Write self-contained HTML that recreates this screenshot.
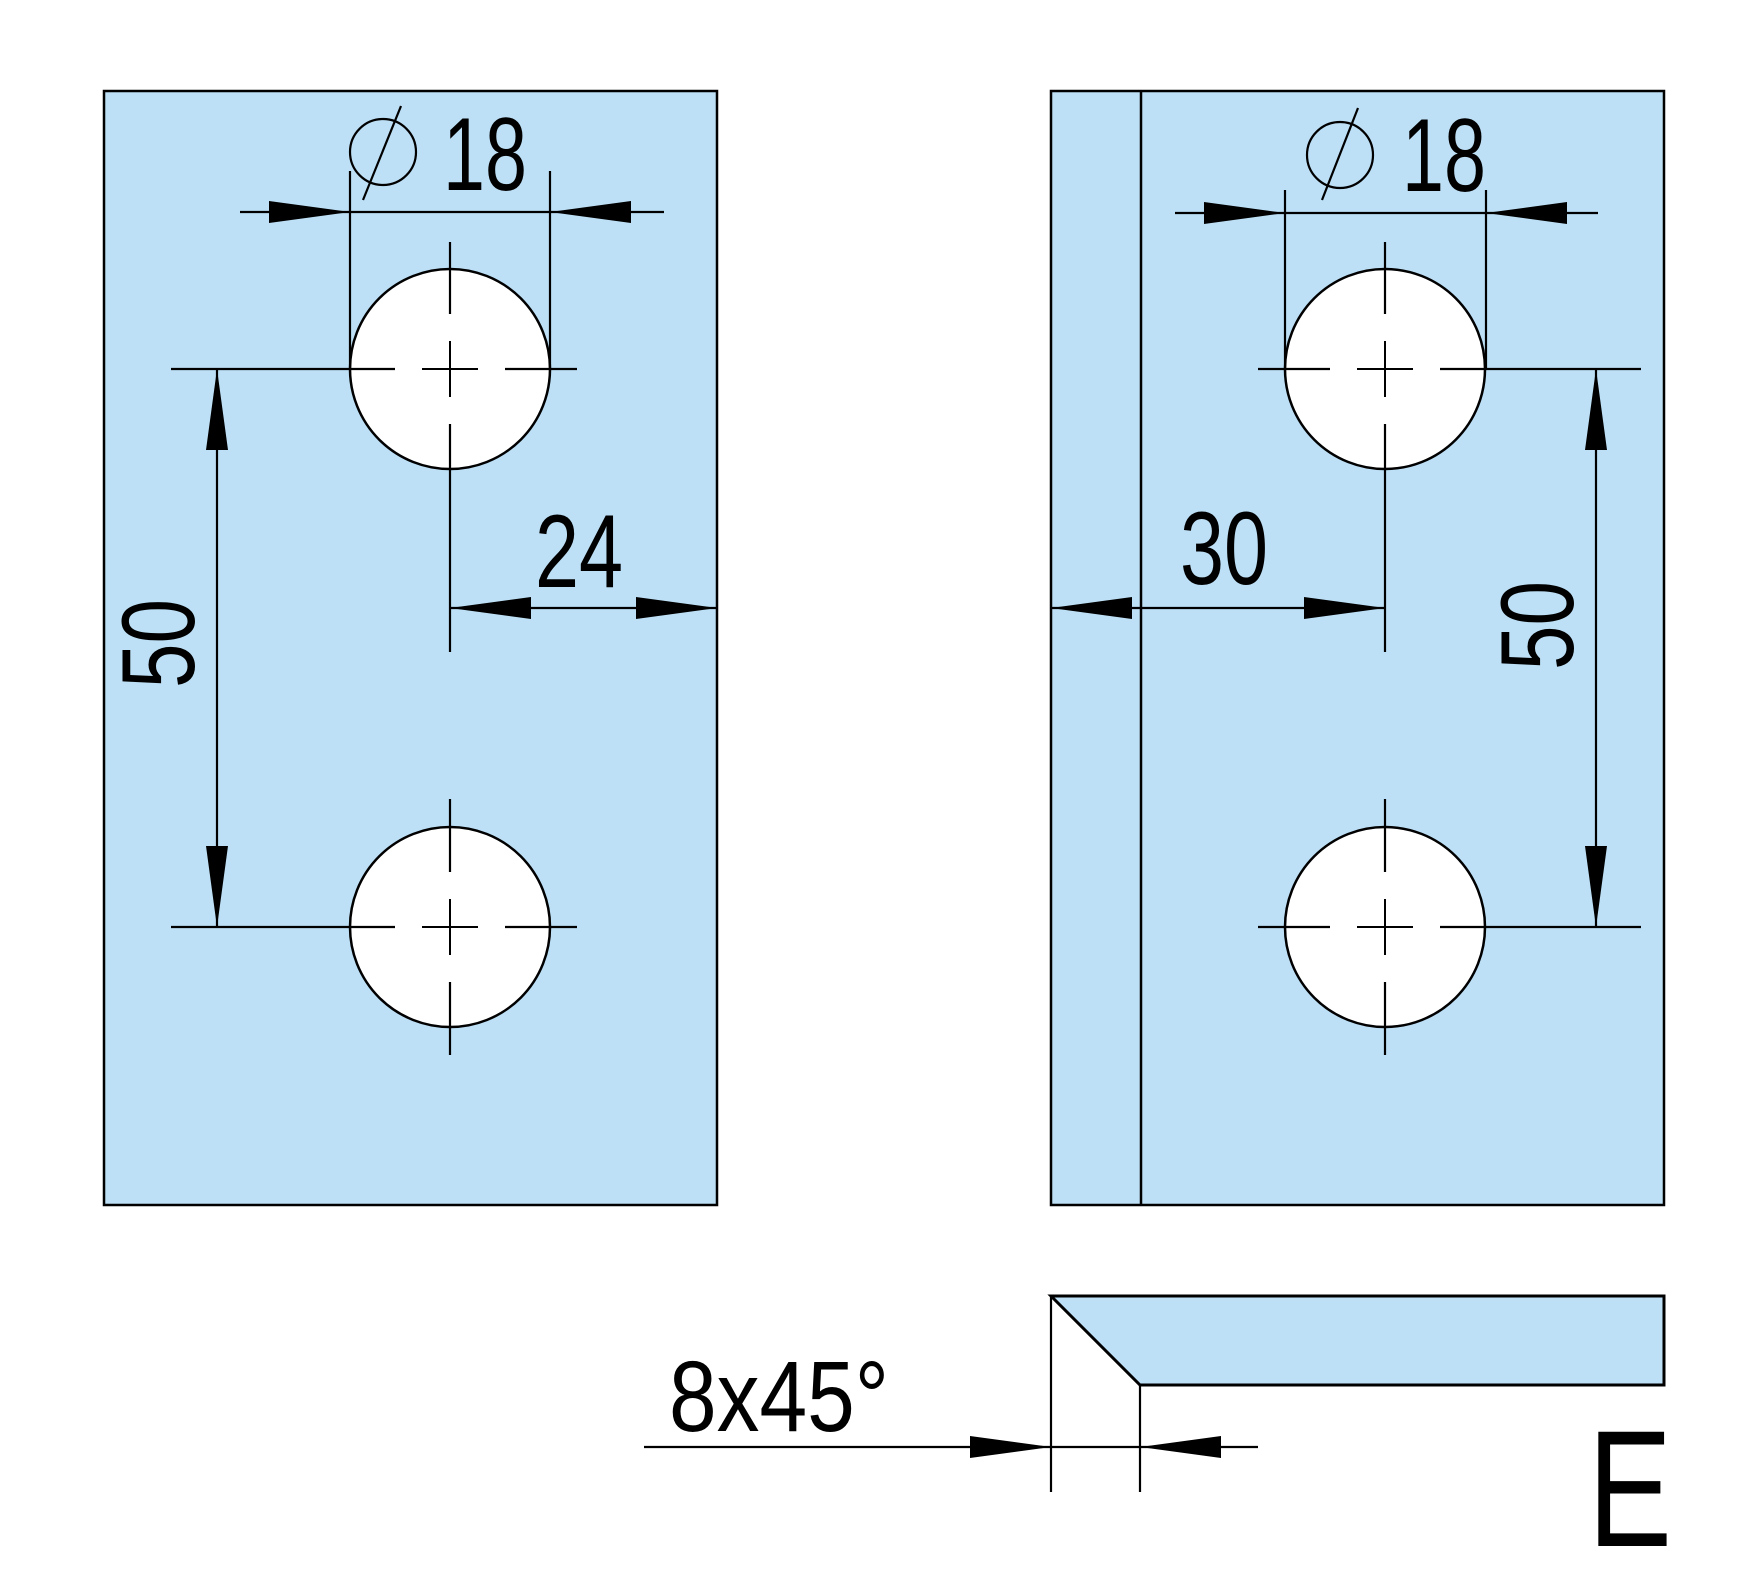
<!DOCTYPE html>
<html><head><meta charset="utf-8"><style>html,body{margin:0;padding:0;background:#fff}svg{display:block}</style></head>
<body>
<svg width="1755" height="1578" viewBox="0 0 1755 1578" xmlns="http://www.w3.org/2000/svg" font-family="Liberation Sans, sans-serif">
<defs>
<g id="hole">
  <circle cx="0" cy="0" r="100" fill="#fff" stroke="#000" stroke-width="2.5"/>
  <line x1="-28" y1="0" x2="28" y2="0" stroke="#000" stroke-width="2"/>
  <line x1="0" y1="-28" x2="0" y2="28" stroke="#000" stroke-width="2"/>
</g>
</defs>
<rect x="104" y="91" width="613" height="1114" fill="#bde0f6" stroke="#000" stroke-width="2.5"/>
<rect x="1051" y="91" width="613" height="1114" fill="#bde0f6" stroke="#000" stroke-width="2.5"/>
<line x1="1141" y1="91" x2="1141" y2="1205" stroke="#000" stroke-width="2.5"/>

<g stroke="#000" stroke-width="2.2" fill="none">
<use href="#hole" x="450" y="369"/>
<use href="#hole" x="450" y="927"/>
<line x1="171" y1="369" x2="395" y2="369"/><line x1="505" y1="369" x2="577" y2="369"/>
<line x1="450" y1="242" x2="450" y2="314"/><line x1="450" y1="424" x2="450" y2="652"/>
<line x1="171" y1="927" x2="395" y2="927"/><line x1="505" y1="927" x2="577" y2="927"/>
<line x1="450" y1="799" x2="450" y2="872"/><line x1="450" y1="982" x2="450" y2="1055"/>
<use href="#hole" x="1385" y="369"/>
<use href="#hole" x="1385" y="927"/>
<line x1="1258" y1="369" x2="1330" y2="369"/><line x1="1440" y1="369" x2="1641" y2="369"/>
<line x1="1385" y1="242" x2="1385" y2="314"/><line x1="1385" y1="424" x2="1385" y2="652"/>
<line x1="1258" y1="927" x2="1330" y2="927"/><line x1="1440" y1="927" x2="1641" y2="927"/>
<line x1="1385" y1="799" x2="1385" y2="872"/><line x1="1385" y1="982" x2="1385" y2="1055"/>

<line x1="350" y1="171" x2="350" y2="369"/><line x1="550" y1="171" x2="550" y2="369"/>
<line x1="240" y1="212" x2="664" y2="212"/>
<line x1="217" y1="369" x2="217" y2="927"/>
<line x1="450" y1="608" x2="717" y2="608"/>
<line x1="1285" y1="190" x2="1285" y2="369"/><line x1="1486" y1="190" x2="1486" y2="369"/>
<line x1="1175" y1="213" x2="1598" y2="213"/>
<line x1="1051" y1="608" x2="1385" y2="608"/>
<line x1="1596" y1="369" x2="1596" y2="927"/>
<circle cx="383" cy="152" r="33"/><line x1="401" y1="106" x2="363" y2="200"/>
<circle cx="1340" cy="155" r="33"/><line x1="1358" y1="108" x2="1322" y2="200"/>
</g>

<g fill="#000">
<polygon points="350,212 269,201 269,223"/>
<polygon points="550,212 631,201 631,223"/>
<polygon points="217,369 206,450 228,450"/>
<polygon points="217,927 206,846 228,846"/>
<polygon points="450,608 531,597 531,619"/>
<polygon points="717,608 636,597 636,619"/>
<polygon points="1285,213 1204,202 1204,224"/>
<polygon points="1486,213 1567,202 1567,224"/>
<polygon points="1051,608 1132,597 1132,619"/>
<polygon points="1385,608 1304,597 1304,619"/>
<polygon points="1596,369 1585,450 1607,450"/>
<polygon points="1596,927 1585,846 1607,846"/>
<polygon points="1051,1447 970,1436 970,1458"/>
<polygon points="1140,1447 1221,1436 1221,1458"/>
</g>

<polygon points="1051,1296 1664,1296 1664,1385 1140,1385" fill="#bde0f6" stroke="#000" stroke-width="3"/>
<g stroke="#000" stroke-width="2.2">
<line x1="1051" y1="1296" x2="1051" y2="1492"/>
<line x1="1140" y1="1385" x2="1140" y2="1492"/>
<line x1="644" y1="1447" x2="1258" y2="1447"/>
</g>

<g fill="#000">
<text x="443" y="190" font-size="104" textLength="84" lengthAdjust="spacingAndGlyphs">18</text>
<text x="1402" y="191" font-size="104" textLength="84" lengthAdjust="spacingAndGlyphs">18</text>
<text x="535" y="587" font-size="104" textLength="88" lengthAdjust="spacingAndGlyphs">24</text>
<text x="1180" y="584" font-size="104" textLength="88" lengthAdjust="spacingAndGlyphs">30</text>
<text transform="translate(194,688) rotate(-90)" font-size="104" textLength="89" lengthAdjust="spacingAndGlyphs">50</text>
<text transform="translate(1573,670) rotate(-90)" font-size="104" textLength="89" lengthAdjust="spacingAndGlyphs">50</text>
<text x="669" y="1431" font-size="100" textLength="220" lengthAdjust="spacingAndGlyphs">8x45°</text>
<text x="1588" y="1546" font-size="166" textLength="84" lengthAdjust="spacingAndGlyphs">E</text>
</g>
</svg>
</body></html>
